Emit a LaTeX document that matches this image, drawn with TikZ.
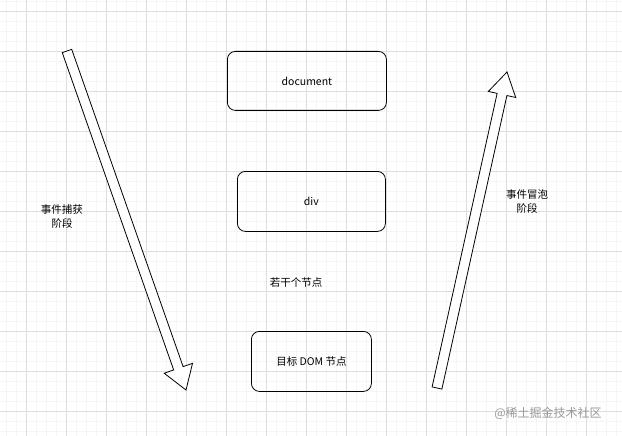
\documentclass[tikz,border=0pt]{standalone}
\usepackage{fontspec}
\setmainfont{Noto Sans CJK SC}
\usetikzlibrary{calc}
\begin{document}
\begin{tikzpicture}[x=1pt,y=-1pt,
  box/.style={draw,thick,rounded corners=8pt,anchor=north west,font=\fontsize{10.5}{12}\selectfont},
  lbl/.style={font=\fontsize{10.5}{14}\selectfont,align=center},
  arr/.style={draw,thick,fill=white,line join=miter}]
\useasboundingbox (0,0) rectangle (622,436);
\fill[white] (0,0) rectangle (622,436);
\foreach \x in {6,16,...,622} \draw[black!4] (\x,0) -- (\x,436);
\foreach \y in {1,11,...,436} \draw[black!4] (0,\y) -- (622,\y);
\foreach \x in {26,66,...,622} \draw[black!13] (\x,0) -- (\x,436);
\foreach \y in {11,51,...,436} \draw[black!13] (0,\y) -- (622,\y);
\node[box,minimum width=159pt,minimum height=59pt] (doc) at (227,51) {document};
\node[box,minimum width=148pt,minimum height=60pt] (div) at (237,171) {div};
\node[box,minimum width=120pt,minimum height=60pt] (tgt) at (251,331) {目标 DOM 节点};
\node[lbl] (mid) at (296,282) {若干个节点};
\node[lbl] (cap) at (62,217) {事件捕获\\阶段};
\node[lbl] (bub) at (527,202) {事件冒泡\\阶段};
\node[font=\fontsize{12}{14}\selectfont,text=black!40] (wm) at (548,413) {@稀土掘金技术社区};
% capture arrow
\coordinate (A) at (67,51); \coordinate (B) at (186,390);
\coordinate (H) at ($(B)!23pt!(A)$);
\draw[arr] ($(A)!5pt!90:(B)$) -- ($(H)!5pt!-90:(A)$) -- ($(H)!15pt!-90:(A)$) -- (B)
  -- ($(H)!15pt!90:(A)$) -- ($(H)!5pt!90:(A)$) -- ($(A)!5pt!-90:(B)$) -- cycle;
% bubble arrow
\coordinate (C) at (437,388); \coordinate (D) at (507,72);
\coordinate (G) at ($(D)!23pt!(C)$);
\draw[arr] ($(C)!5pt!90:(D)$) -- ($(G)!5pt!-90:(C)$) -- ($(G)!14pt!-90:(C)$) -- (D)
  -- ($(G)!14pt!90:(C)$) -- ($(G)!5pt!90:(C)$) -- ($(C)!5pt!-90:(D)$) -- cycle;
\end{tikzpicture}
\end{document}
